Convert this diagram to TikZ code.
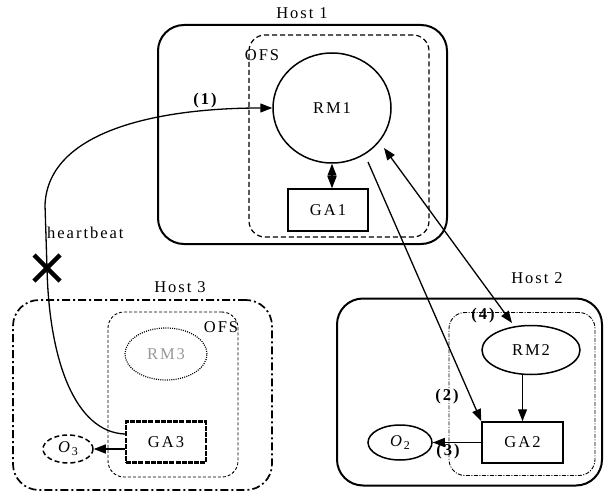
\documentclass[tikz,border=0pt]{standalone}
\usepackage{fontspec}
\setmainfont[LetterSpace=12]{Liberation Serif}
\usetikzlibrary{shapes.geometric,arrows.meta}
\begin{document}
\begin{tikzpicture}[x=1pt,y=-1pt,font=\fontsize{16.5}{18}\selectfont,
  host/.style={draw,line width=2pt,rounded corners=26pt,rectangle,inner sep=0pt},
  ofsbox/.style={draw,rectangle,rounded corners=16pt,inner sep=0pt},
  box/.style={draw,line width=1.5pt,rectangle,inner sep=0pt},
  ell/.style={draw,ellipse,line width=1.5pt,inner sep=0pt},
  arr/.style={line width=1.3pt,-{Triangle[length=12pt,width=9pt]}},
  darr/.style={line width=1.3pt,{Triangle[length=12pt,width=9pt]}-{Triangle[length=12pt,width=9pt]}},
  lbl/.style={font=\fontsize{16.5}{16.5}\selectfont\bfseries,inner sep=1pt},
]
\useasboundingbox (0,0) rectangle (604,494);
% Host 1
\node[host,minimum width=289pt,minimum height=219pt] (host1) at (302.5,134.5) {};
\node[ofsbox,dash pattern=on 5pt off 3pt,line width=1.2pt,minimum width=180pt,minimum height=202pt] (ofs1) at (339,136) {};
\node (h1l) at (302,13) {Host 1};
\node (ofs1l) at (262,55) {OFS};
\node[ell,minimum width=118pt,minimum height=110pt] (rm1) at (332,108) {RM1};
\node[box,minimum width=80pt,minimum height=42pt] (ga1) at (328,210) {GA1};
\draw[darr] (rm1.south) -- (rm1.south |- ga1.north);
% Host 3
\node[host,line width=1.7pt,dash pattern=on 8pt off 3pt on 2pt off 3pt,minimum width=259pt,minimum height=190pt] (host3) at (142.5,395) {};
\node[ofsbox,line width=0.9pt,dash pattern=on 3pt off 2pt,minimum width=130pt,minimum height=165pt] (ofs3) at (173,394.5) {};
\node (h3l) at (180,287) {Host 3};
\node (ofs3l) at (221,327) {OFS};
\node[ell,line width=1.2pt,dash pattern=on 1pt off 1.2pt,minimum width=82pt,minimum height=52pt,text=black!40] (rm3) at (166,354) {RM3};
\node[box,line width=2.4pt,dash pattern=on 5pt off 1.2pt,minimum width=80pt,minimum height=41pt] (ga3) at (166,442) {GA3};
\node[ell,dash pattern=on 5pt off 3pt,minimum width=50pt,minimum height=28pt] (o3) at (68,449) {\textit{O}\raisebox{-3pt}{\fontsize{12}{12}\selectfont 3}};
\draw[arr] (ga3.west |- o3.east) -- (o3.east);
% Host 2
\node[host,minimum width=265pt,minimum height=187pt] (host2) at (469.5,392) {};
\node[ofsbox,line width=0.9pt,dash pattern=on 4pt off 1.5pt on 1pt off 1.5pt,minimum width=146pt,minimum height=163pt] (ofs2) at (522,394) {};
\node (h2l) at (537,278) {Host 2};
\node[ell,minimum width=98pt,minimum height=49pt] (rm2) at (531,350) {RM2};
\node[box,minimum width=81pt,minimum height=41pt] (ga2) at (522.5,442.5) {GA2};
\node[ell,minimum width=64pt,minimum height=35pt] (o2) at (400,442.5) {\textit{O}\raisebox{-3pt}{\fontsize{12}{12}\selectfont 2}};
\draw[arr] (ga2.south |- rm2.south) -- (ga2.south |- ga2.north);
\draw[arr] (ga2.west) -- (o2.east);
% inter-host arrows
\draw[arr] ([shift={(36,54)}]rm1.center) -- (ga2.north west);
\draw[darr] ([shift={(52,40)}]rm1.center) -- ([shift={(-19,-27)}]rm2.center);
% heartbeat
\draw[arr] ([yshift=8pt]ga3.west) .. controls (75,432) and (49,360) .. (47,268) -- (45,205) .. controls (48,130) and (160,108) .. (rm1.west);
\draw[line width=4.5pt] (34,255) -- (60,281) (34,281) -- (60,255);
\node[anchor=west,inner sep=0pt] (hb) at (47,233) {heartbeat};
\node[lbl] (l1) at (205,101) {(1)};
\node[lbl] (l2) at (447,397) {(2)};
\node[lbl] (l3) at (448,452) {(3)};
\node[lbl] (l4) at (483,316) {(4)};
\end{tikzpicture}
\end{document}
